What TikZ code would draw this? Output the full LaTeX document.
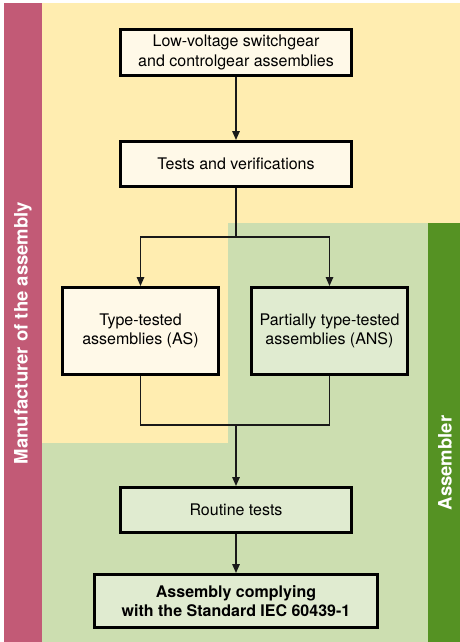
\documentclass[tikz,border=0pt]{standalone}
\usepackage{fontspec}
\setmainfont{TeX Gyre Heros}
\usetikzlibrary{arrows.meta}
\definecolor{mfrpink}{RGB}{194,90,118}
\definecolor{mfryellow}{RGB}{255,237,176}
\definecolor{asmgreen}{RGB}{204,222,176}
\definecolor{asmdark}{RGB}{85,146,35}
\definecolor{boxcream}{RGB}{255,249,232}
\definecolor{boxgreen}{RGB}{224,235,208}
\begin{document}
\begin{tikzpicture}[x=1pt,y=-1pt,
  stage/.style={draw=black,line width=3pt,align=center,inner sep=0pt,
    font=\fontsize{16}{19.5}\selectfont},
  wire/.style={line width=1.5pt,black!90},
  flow/.style={wire,-{Triangle[length=9pt,width=7.5pt]}},
  band/.style={white,rotate=90,font=\bfseries\fontsize{18.5}{21}\selectfont}]
  % areas
  \fill[white] (0,0) rectangle (460,642);
  \fill[mfrpink] (4,3) rectangle (42,642);
  \fill[mfryellow] (42,3) rectangle (460,223);
  \fill[mfryellow] (42,223) rectangle (228,443);
  \fill[asmgreen] (228,223) rectangle (428,642);
  \fill[asmgreen] (42,443) rectangle (228,642);
  \fill[asmdark] (428,223) rectangle (460,642);
  \node[band] (mfr) at (23,333) {Manufacturer of the assembly};
  \node[band] (asm) at (445,463) {Assembler};
  % boxes
  \node[stage,fill=boxcream,minimum width=231,minimum height=46] (lv) at (236,52.5)
    {Low-voltage switchgear\\and controlgear assemblies};
  \node[stage,fill=boxcream,minimum width=231,minimum height=45] (tv) at (236,164)
    {Tests and verifications};
  \node[stage,fill=boxcream,minimum width=156,minimum height=87] (as) at (140.5,331)
    {Type-tested\\assemblies (AS)};
  \node[stage,fill=boxgreen,minimum width=156,minimum height=87] (ans) at (329.5,331)
    {Partially type-tested\\assemblies (ANS)};
  \node[stage,fill=boxgreen,minimum width=231,minimum height=45] (rt) at (236,510)
    {Routine tests};
  \node[stage,fill=boxgreen,minimum width=283,minimum height=53,
    font=\bfseries\fontsize{16}{19.5}\selectfont] (iec) at (236,601)
    {Assembly complying\\with the Standard IEC 60439-1};
  % connectors
  \coordinate (split) at (236,237);
  \coordinate (join) at (236,425);
  \draw[flow] (lv) -- (tv);
  \draw[wire] (tv) -- (split);
  \draw[flow] (split) -| (as);
  \draw[flow] (split) -| (ans);
  \draw[wire] (as) |- (join);
  \draw[wire] (ans) |- (join);
  \draw[flow] (join) -- (rt);
  \draw[flow] (rt) -- (iec);
\end{tikzpicture}
\end{document}
